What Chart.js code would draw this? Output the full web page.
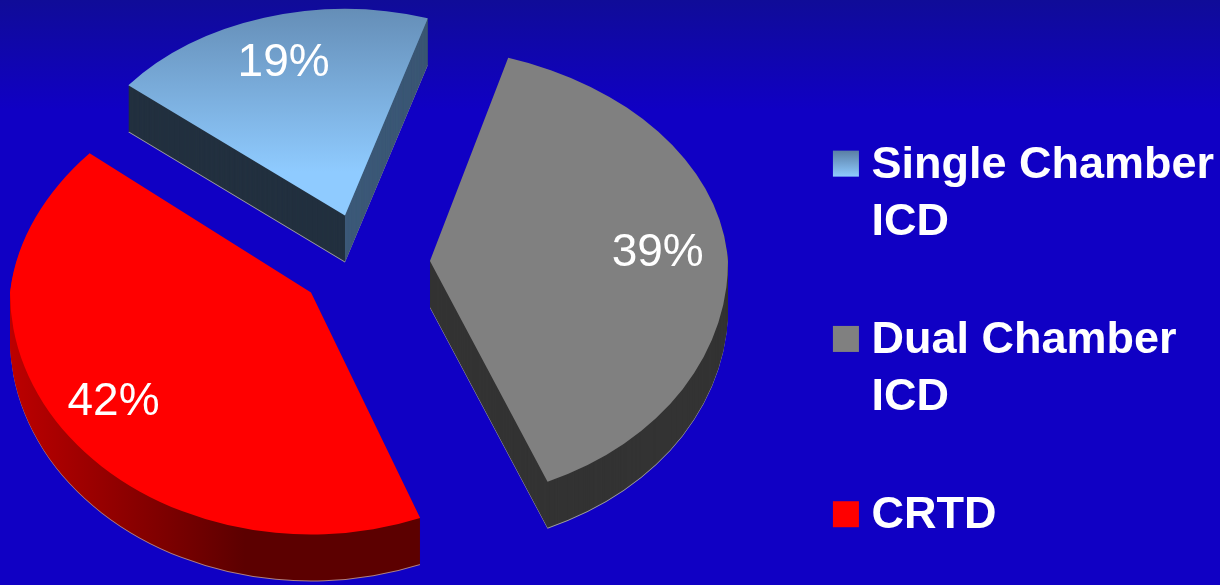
<!DOCTYPE html>
<html>
<head>
<meta charset="utf-8">
<title>Device types</title>
<script src="https://cdn.jsdelivr.net/npm/chart.js@4"></script>
<style>
    html, body { margin: 0; padding: 0; background: #1000c4; }
    canvas { display: block; }
</style>
</head>
<body>
<canvas id="pieChart" width="1220" height="585"></canvas>
<script>
const categories = [["Single Chamber", "ICD"], ["Dual Chamber", "ICD"], ["CRTD"]];
const shares = [19, 39, 42];

// Look of the tilted pie
const startAngle = -51;
const explode = 66;
const pieRadius = 298;
const pieCentre = { x: 364, y: 263 };
const meanTilt = 0.75;
const depth = 46;
const labelDistance = [212, 228, 246];

// Fake perspective, per slice: size, then squash and shear above and below the tip
const sliceScale = [0.937, 1, 1.01];
const backTilt = [0.74, 0.717, 0.75];
const frontTilt = [0.80, 0.804, 0.804];
const backShear = [0, 0.07, -0.112];
const frontShear = [0, 0.008, 0];

function sliceTip(arc) {
    const mid = (arc.startAngle + arc.endAngle) / 2;
    const dx = Math.cos(mid) * explode;
    const dy = Math.sin(mid) * explode;
    return {
        chartX: arc.x + dx,
        chartY: arc.y + dy,
        x: pieCentre.x + dx,
        y: pieCentre.y + dy * meanTilt
    };
}

// An offset arc is drawn a little larger than its outerRadius, by an amount
// that depends on its sweep
function drawnRadius(arc) {
    const fix = 1 - Math.sin(Math.min(Math.PI, arc.circumference));
    return arc.outerRadius + explode * fix;
}

// Draws one arc of the chart at a height offset, split at the tip so that
// the back and the front of the pie get their own transform.
function drawArc(ctx, arc, index, lift, fill) {
    const tip = sliceTip(arc);
    const k = sliceScale[index] * pieRadius / drawnRadius(arc);
    const split = Math.round(tip.y);
    const saved = arc.options;
    arc.options = { ...saved, backgroundColor: fill };
    const halves = [
        [backTilt[index], backShear[index], split - 2000],
        [frontTilt[index], frontShear[index], split]
    ];
    halves.forEach(([tilt, shear, from]) => {
        ctx.save();
        ctx.translate(0, lift);
        ctx.beginPath();
        ctx.rect(-100, from, 1500, 2000);
        ctx.clip();
        ctx.translate(tip.x, tip.y);
        ctx.transform(1, 0, shear, 1, 0, 0);
        ctx.scale(k, k * tilt);
        ctx.translate(-tip.chartX, -tip.chartY);
        arc.draw(ctx);
        ctx.restore();
    });
    arc.options = saved;
}

function topFill(ctx, arc, index) {
    const tip = sliceTip(arc);
    if (index === 0) {
        const g = ctx.createLinearGradient(0, tip.chartY - drawnRadius(arc), 0, tip.chartY);
        g.addColorStop(0, "#5a7ea4");
        g.addColorStop(1, "#8fcbff");
        return g;
    }
    return index === 1 ? "#808080" : "#ff0000";
}

function sideFill(ctx, arc, index) {
    const tip = sliceTip(arc);
    if (index === 2) {
        const r = drawnRadius(arc);
        const g = ctx.createLinearGradient(tip.chartX - r, 0, tip.chartX - 20, 0);
        g.addColorStop(0, "#d00000");
        g.addColorStop(1, "#5c0000");
        return g;
    }
    return index === 1 ? "#333333" : "#22303f";
}

const pie3d = {
    id: "pie3d",
    beforeDraw(chart) {
        const { ctx, width, height } = chart;
        const bg = ctx.createLinearGradient(0, 0, 0, 110);
        bg.addColorStop(0, "#100c98");
        bg.addColorStop(1, "#1000c4");
        ctx.fillStyle = bg;
        ctx.fillRect(0, 0, width, height);
    },
    beforeDatasetsDraw(chart) {
        const { ctx } = chart;
        const arcs = chart.getDatasetMeta(0).data;
        arcs.forEach((arc, i) => {
            const tip = sliceTip(arc);
            // pale seam under the slab
            drawArc(ctx, arc, i, depth + 1, i === 2 ? "#b08080" : "#a0a0a0");
            for (let lift = depth; lift > 0; lift--) {
                drawArc(ctx, arc, i, lift, sideFill(ctx, arc, i));
                if (i === 0) {
                    // the cut face to the right of the tip is lit
                    ctx.save();
                    ctx.beginPath();
                    ctx.rect(tip.x, 0, 400, 585);
                    ctx.clip();
                    drawArc(ctx, arc, i, lift, "#46688c");
                    ctx.restore();
                }
            }
            drawArc(ctx, arc, i, 0, topFill(ctx, arc, i));
        });
        return false;
    },
    afterDraw(chart) {
        const { ctx } = chart;
        const arcs = chart.getDatasetMeta(0).data;
        ctx.save();
        ctx.fillStyle = "#ffffff";
        ctx.font = "46px 'Liberation Sans'";
        ctx.textAlign = "center";
        ctx.textBaseline = "middle";
        arcs.forEach((arc, i) => {
            const tip = sliceTip(arc);
            const mid = (arc.startAngle + arc.endAngle) / 2;
            const x = tip.x + Math.cos(mid) * labelDistance[i];
            const y = tip.y + Math.sin(mid) * labelDistance[i] * meanTilt;
            ctx.fillText(shares[i] + "%", x, y);
        });
        // legend swatches sit closer to the text than the library's gap allows
        chart.legend.legendHitBoxes.forEach((box, i) => {
            const top = box.top + 8;
            if (i === 0) {
                const g = ctx.createLinearGradient(0, top, 0, top + 26);
                g.addColorStop(0, "#5a7ea4");
                g.addColorStop(1, "#8fcbff");
                ctx.fillStyle = g;
            } else {
                ctx.fillStyle = i === 1 ? "#808080" : "#ff0000";
            }
            ctx.fillRect(box.left + 1, top, 26, 26);
        });
        ctx.restore();
    }
};

new Chart(document.getElementById("pieChart"), {
    type: "pie",
    data: {
        labels: categories,
        datasets: [{
            data: shares,
            backgroundColor: ["#8fcbff", "#808080", "#ff0000"],
            borderWidth: 0,
            offset: explode * 4
        }]
    },
    options: {
        responsive: false,
        animation: false,
        rotation: startAngle,
        radius: pieRadius,
        layout: { padding: { right: -4, bottom: -108 } },
        plugins: {
            tooltip: { enabled: false },
            legend: {
                position: "right",
                labels: {
                    color: "#ffffff",
                    boxWidth: 17,
                    boxHeight: 17,
                    padding: 61,
                    font: { family: "'Liberation Sans'", size: 45, weight: "bold", lineHeight: 1.27 },
                    generateLabels(chart) {
                        return chart.data.labels.map((text, i) => ({
                            text,
                            fillStyle: "rgba(0,0,0,0)",
                            strokeStyle: "rgba(0,0,0,0)",
                            lineWidth: 0,
                            fontColor: "#ffffff",
                            index: i
                        }));
                    }
                }
            }
        }
    },
    plugins: [pie3d]
});
</script>
</body>
</html>
